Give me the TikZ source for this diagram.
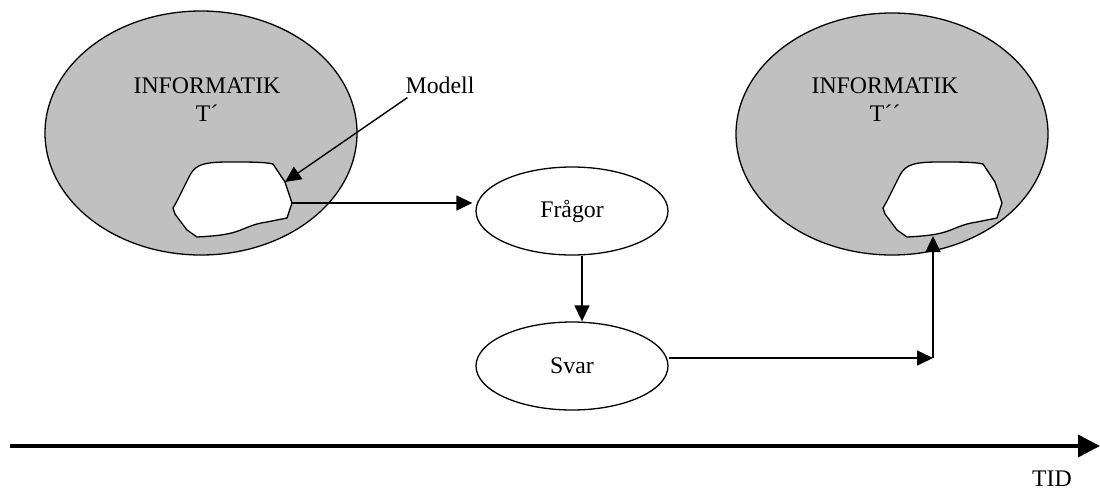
\documentclass[tikz,border=0pt]{standalone}
\usepackage{fontspec}
\setmainfont{Liberation Serif}
\usetikzlibrary{shapes.geometric,arrows.meta,calc}
\definecolor{silver}{HTML}{C0C0C0}
\begin{document}
\begin{tikzpicture}[x=1pt,y=-1pt,
  every node/.style={font=\fontsize{23.8}{28}\selectfont},
  bigell/.style={draw,ellipse,fill=silver,line width=1.3pt,inner sep=0pt},
  smallell/.style={draw,ellipse,line width=1.3pt,inner sep=0pt,minimum width=192pt,minimum height=88pt},
  blob/.style={draw,fill=white,line width=1.3pt,line join=round},
  arr/.style={line width=1.4pt,-{Triangle[length=16pt,width=15pt]}},
  axis/.style={line width=3.5pt,-{Triangle[length=22pt,width=22pt]}},
  lbl/.style={align=center,inner sep=0pt}]
\useasboundingbox (0,0) rectangle (1100,490);

% left area
\node[bigell,minimum width=312pt,minimum height=244pt] (e1) at (201,133) {};
\node[lbl] (t1) at (207,100) {INFORMATIK\\T´};
\coordinate (b1top) at (273,164);
\coordinate (b1mod) at (285,182);
\coordinate (b1out) at (292,203);
\draw[blob] (190,175) .. controls (196,164) and (205,162) .. (230,162)
  .. controls (250,162) and (265,162) .. (b1top) -- (b1mod) -- (b1out) -- (287,218)
  -- (267,222) .. controls (252,224) and (245,229) .. (235,232)
  .. controls (225,235) and (215,236) .. (197,237) -- (187,230) -- (175,214)
  -- (173,208) -- (177,201) -- cycle;

% right area
\node[bigell,minimum width=312pt,minimum height=242pt] (e2) at (892,134) {};
\node[lbl] (t2) at (885,100) {INFORMATIK\\T´´};
\begin{scope}[shift={(710,0)}]
\coordinate (b2in) at (222,236);
\draw[blob] (190,175) .. controls (196,164) and (205,162) .. (230,162)
  .. controls (250,162) and (265,162) .. (273,164) -- (285,182) -- (292,203) -- (287,218)
  -- (267,222) .. controls (252,224) and (245,229) .. (235,232)
  .. controls (225,235) and (215,236) .. (197,237) -- (187,230) -- (175,214)
  -- (173,208) -- (177,201) -- cycle;
\end{scope}

% Modell
\node[inner sep=0pt] (modell) at (440,85) {Modell};
\draw[arr] ([xshift=2pt,yshift=-4pt]modell.south west) -- (b1mod);

% Fragor / Svar
\node[smallell] (fragor) at (572,211) {Frågor};
\node[smallell] (svar) at (572,366) {Svar};
\draw[arr] (b1out) -- ([xshift=-3pt]fragor.west |- b1out);
\draw[arr] ([xshift=10pt]fragor.south) -- ([xshift=10pt]svar.north);
\coordinate (corner) at (933,358);
\draw[arr] (svar.east |- corner) -- (corner);
\draw[arr] (corner) -- (corner |- b2in);

% time axis
\coordinate (ts) at (10,446);
\coordinate (te) at (1100,446);
\draw[axis] (ts) -- (te);
\node[inner sep=0pt] (tid) at (1052,479) {TID};
\end{tikzpicture}
\end{document}
